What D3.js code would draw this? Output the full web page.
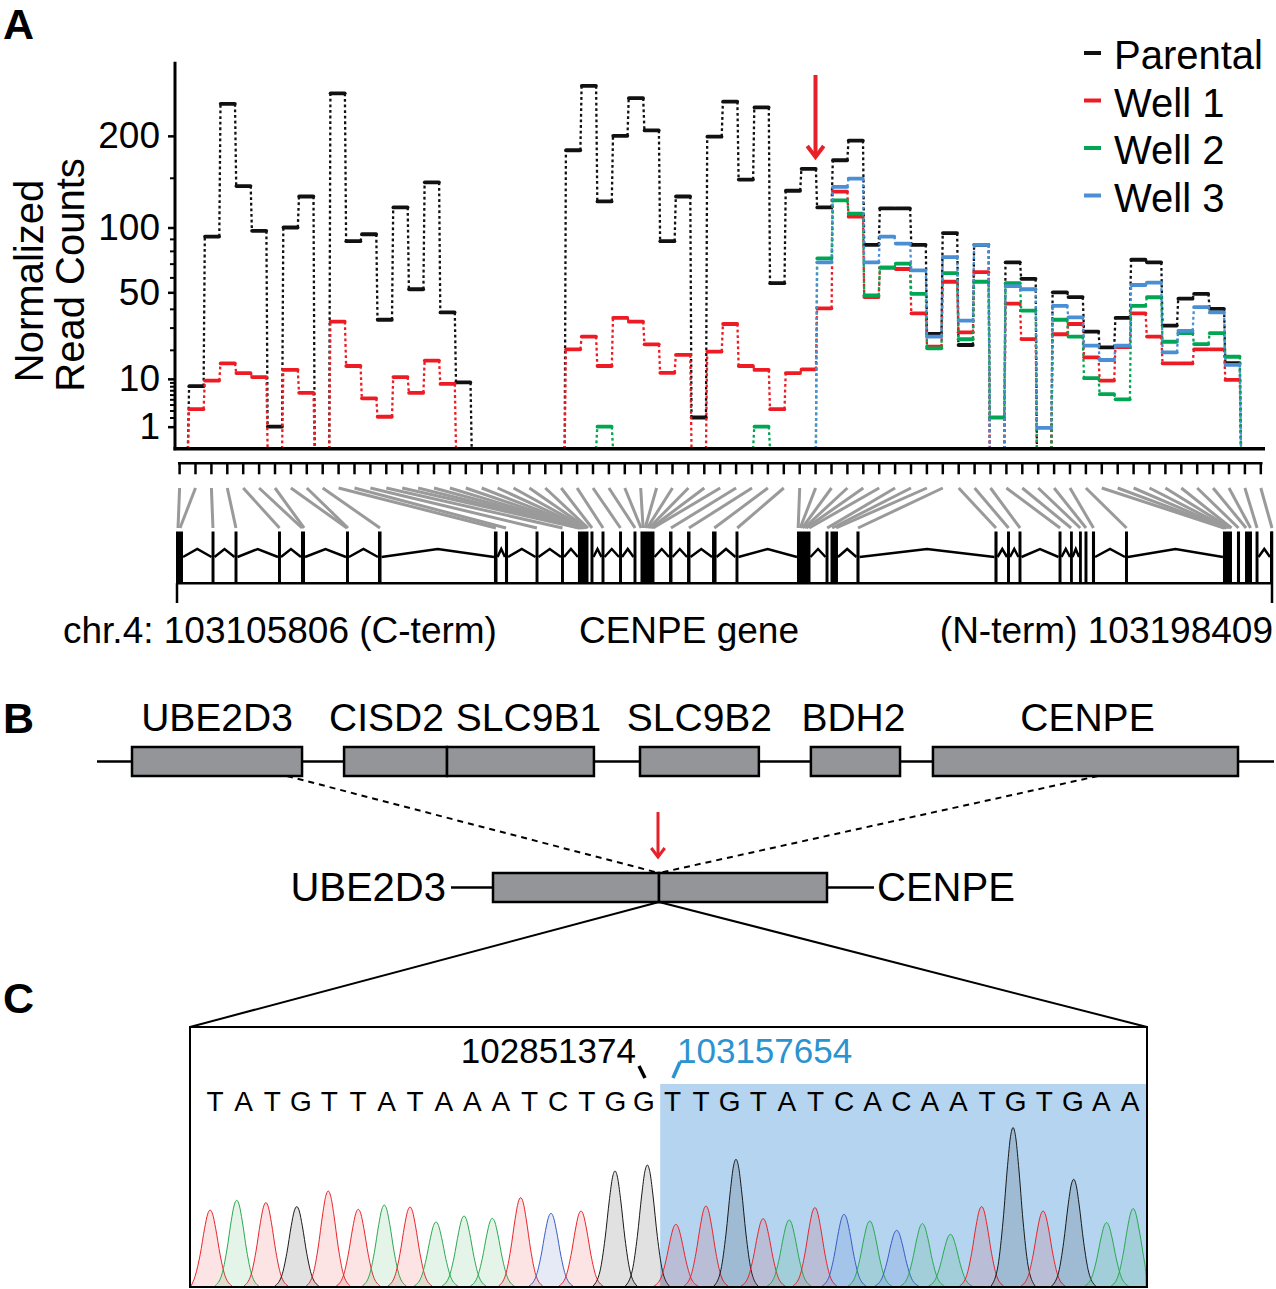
<!DOCTYPE html>
<html><head><meta charset="utf-8">
<script src="https://cdn.jsdelivr.net/npm/d3@7"></script>
<style>body{margin:0;background:#fff}svg{display:block}text{font-family:"Liberation Sans",Arial,Helvetica,sans-serif}</style>
</head><body><svg id="fig" width="1276" height="1289"></svg>
<script>
// ---------------- DATA ----------------
// Panel A: normalized read counts per bin (67 bins along CENPE, C-term -> N-term)
const parental = [8,92,243,141,97,1,100,130,0,258,88,94,34,119,52,145,38,9,0,0,0,0,0,0,182,269,125,200,251,207,88,130,2,199,246,148,238,56,136,160,119,170,194,85,118,118,85,27,95,22,85,0,71,59,0,50,47,28,21,35,73,71,31,46,49,40,15];
const well1 = [3.2,9.5,14.9,11.7,10.5,0,12.7,6.4,0,33,14,5.2,2.1,10.5,6.4,15.9,8.6,0,0,0,0,0,0,0,20.2,25.7,14,35,33,22.3,11.8,18,0,19.3,31.8,14,12.7,3.2,11.7,12.9,40.3,135,110,47,67,66,37.5,21.3,57,27.7,63.7,0,43,24.6,0,26.8,31.8,17.1,9.5,21.1,37.5,25.7,14.9,14.9,20.2,20.2,9.7];
const well2 = [0,0,0,0,0,0,0,0,0,0,0,0,0,0,0,0,0,0,0,0,0,0,0,0,0,0,1,0,0,0,0,0,0,0,0,0,1,0,0,0,74,126,113,48,67,70,49,20.6,63,24.5,57,2,56,39,0,34,25.7,10.2,6.1,5,41.7,46.9,23.4,27.3,22.4,27.3,17.3];
const well3 = [0,0,0,0,0,0,0,0,0,0,0,0,0,0,0,0,0,0,0,0,0,0,0,0,0,0,0,0,0,0,0,0,0,0,0,0,0,0,0,0,71,140,149,71,92,86,65,25.7,75,33.5,85,0,54,52,0.9,41.7,35.3,21.7,16.1,21.7,54.8,56.4,19,28.4,41,38,14.4];
const seriesNames = ["Parental","Well 1","Well 2","Well 3"];
const yMajorTicks = [1,10,50,100,200];
const yMinorTicks = [2,3,4,5,6,7,8,9,20,30,40,60,70,80,90,150];
const breakBin = 40; // arrow at boundary between bin 40 and 41

// CENPE gene model (kb from 103105806)
const geneStart = 103105806, geneEnd = 103198409;
const exonStartKb = [0,3.00,4.94,8.61,10.55,14.35,17.05,26.84,27.77,30.35,32.50,33.93,34.99,35.92,37.40,38.62,39.21,41.62,43.14,45.25,47.23,52.42,54.83,55.25,57.44,69.09,70.15,71.12,74.50,75.47,76.23,76.69,77.32,80.11,88.38,89.56,90.24,91.13,92.35];
const exonEndKb   = [0.59,3.25,5.19,8.86,10.89,14.60,17.35,27.14,28.03,30.60,32.75,34.82,35.24,36.17,37.65,38.87,40.39,41.91,43.43,45.63,47.48,53.56,55.08,55.88,57.70,69.35,70.40,71.37,74.75,75.68,76.44,76.94,77.58,80.36,89.14,89.82,90.83,91.38,92.60];
// each ruler tick -> position (kb) in the gene model
const rulerTargetKb = [0.17,0.34,3.12,5.06,8.74,10.64,10.81,14.43,14.52,17.22,27.01,27.86,30.47,32.63,34.02,34.10,34.19,34.27,34.36,34.44,34.53,34.61,34.69,34.78,35.12,36.05,37.52,38.75,39.26,39.43,39.60,39.77,39.93,40.10,40.27,41.78,43.30,45.44,47.38,52.52,52.69,52.86,53.03,53.20,53.45,54.97,55.39,55.73,57.57,69.22,70.28,71.25,74.63,75.56,76.33,76.82,77.45,80.24,88.47,88.55,88.68,88.80,88.97,89.10,89.69,90.33,90.71,91.26,92.52];

// Panel B genes (locus units)
const locusGenes = ["UBE2D3","CISD2","SLC9B1","SLC9B2","BDH2","CENPE"];
const locusStart = [0,9.99,14.84,23.93,31.98,37.73];
const locusEnd   = [8.01,14.84,21.76,29.53,36.18,52.1];

// Panel C: Sanger trace
const seqBases = "TATGTTATAAATCTGGTTGTATCACAATGTGAA".split("");
const junctionIndex = 16; // first CENPE base
const peakPos = [-0.17,0.76,1.78,2.86,3.96,5.01,5.92,6.82,7.73,8.71,9.70,10.69,11.75,12.80,13.99,15.12,16.12,17.17,18.22,19.17,20.08,20.98,22.0,22.9,23.84,24.74,25.72,26.81,27.91,28.96,30.03,31.18,32.11];
const peakHeight = [760,857,834,794,950,767,810,790,640,700,677,884,727,750,1150,1210,617,800,1267,674,660,784,717,650,557,624,517,794,1584,750,1067,634,774];
const leftCoord = "102851374", rightCoord = "103157654";

// ---------------- DRAW ----------------
const svg = d3.select("#fig");
svg.append("rect").attr("width",1276).attr("height",1289).attr("fill","#fff");
const FONT = '"Liberation Sans",Arial,Helvetica,sans-serif';
const colors = ["#111111","#ed1c24","#00a651","#4a8fd4"];

// panel letters
[["A",3,39],["B",3,733],["C",3,1013]].forEach(([t,x0,y0])=>{
  svg.append("text").attr("x",x0).attr("y",y0).attr("font-size",43).attr("font-weight","bold").text(t);
});

// ---- Panel A chart ----
const x = d3.scaleLinear().domain([0, parental.length]).range([188.5, 1240.4]);
const y = d3.scaleSqrt().domain([0, 306]).range([448.8, 61.7]);

function drawSeries(vals, color){
  const g = svg.append("g");
  for(let i=0;i<=vals.length;i++){
    const a = i===0?0:vals[i-1], b = i===vals.length?0:vals[i];
    if(a===0 && b===0) continue;
    g.append("line").attr("x1",x(i)-0.6).attr("y1",y(a)).attr("x2",x(i)+0.6).attr("y2",y(b))
      .attr("stroke",color).attr("stroke-width",2.3).attr("stroke-dasharray","2.8,2.8");
  }
  vals.forEach((v,i)=>{
    if(v===0) return;
    g.append("line").attr("x1",x(i)+0.8).attr("x2",x(i+1)-0.8).attr("y1",y(v)).attr("y2",y(v))
      .attr("stroke",color).attr("stroke-width",3.8).attr("stroke-linecap","round");
  });
}
[parental,well1,well2,well3].forEach((s,i)=>drawSeries(s,colors[i]));

// axes
const yAxis = d3.axisLeft(y).tickValues(yMajorTicks).tickSize(7).tickPadding(8).tickFormat(d3.format("d"));
const gy = svg.append("g").attr("transform","translate(175,0)").call(yAxis);
gy.select(".domain").remove();
gy.selectAll(".tick line").attr("stroke","#000").attr("stroke-width",2.5);
gy.selectAll(".tick text").attr("font-size",37).attr("font-family",FONT).attr("fill","#000");
const gyMinor = svg.append("g").attr("transform","translate(175,0)").call(d3.axisLeft(y).tickValues(yMinorTicks).tickSize(5).tickFormat(""));
gyMinor.select(".domain").remove();
gyMinor.selectAll(".tick line").attr("stroke","#000").attr("stroke-width",2);
svg.append("line").attr("x1",175).attr("x2",175).attr("y1",y.range()[1]).attr("y2",y(0)+1.5).attr("stroke","#000").attr("stroke-width",3);
svg.append("line").attr("x1",173.5).attr("x2",1265).attr("y1",y(0)).attr("y2",y(0)).attr("stroke","#000").attr("stroke-width",3.5);

// y title
svg.append("text").attr("transform","translate(43,281) rotate(-90)").attr("text-anchor","middle").attr("font-size",40).text("Normalized");
svg.append("text").attr("transform","translate(84,275) rotate(-90)").attr("text-anchor","middle").attr("font-size",40).text("Read Counts");

// legend
seriesNames.forEach((n,i)=>{
  const cy = 55 + i*47.5;
  svg.append("line").attr("x1",1084).attr("x2",1101).attr("y1",cy-2).attr("y2",cy-2).attr("stroke",colors[i]).attr("stroke-width",4);
  svg.append("text").attr("x",1114).attr("y",cy+14).attr("font-size",40).text(n);
});

// red arrow
function arrow(xp, y1, y2, w, head){
  const g = svg.append("g").attr("stroke","#e8202a").attr("stroke-width",w).attr("fill","none").attr("stroke-linecap","butt");
  g.append("line").attr("x1",xp).attr("x2",xp).attr("y1",y1).attr("y2",y2-1);
  g.append("path").attr("d",`M${xp-head*0.75},${y2-head} L${xp},${y2} L${xp+head*0.75},${y2-head}`).attr("stroke-linejoin","miter");
}
arrow(x(breakBin)-1, 75, 157, 4, 11);

// ---- ruler & gene model ----
const rulerY = 463.3;
const rx = d3.scalePoint().domain(d3.range(rulerTargetKb.length)).range([179.6, 1260.8]);
svg.append("line").attr("x1",178).attr("x2",1262.5).attr("y1",rulerY).attr("y2",rulerY).attr("stroke","#000").attr("stroke-width",2.5);
svg.append("g").selectAll("line").data(rulerTargetKb).join("line")
  .attr("x1",(d,i)=>rx(i)).attr("x2",(d,i)=>rx(i)).attr("y1",rulerY).attr("y2",rulerY+11)
  .attr("stroke","#000").attr("stroke-width",2.5);
const gx = d3.scaleLinear().domain([0,(geneEnd-geneStart)/1000]).range([176,1273]);
svg.append("g").selectAll("line").data(rulerTargetKb).join("line")
  .attr("x1",(d,i)=>rx(i)).attr("y1",488).attr("x2",d=>gx(d)).attr("y2",528)
  .attr("stroke","#9a9a9a").attr("stroke-width",3);

const exonTop = 531.5, exonBot = 583.3, intronBase = 557, intronPeak = 549;
svg.append("line").attr("x1",gx(0)).attr("x2",gx.range()[1]).attr("y1",exonBot).attr("y2",exonBot).attr("stroke","#000").attr("stroke-width",2.5);
const introns = d3.range(exonStartKb.length-1).map(i=>[exonEndKb[i], exonStartKb[i+1]]).filter(([a,b])=>gx(b)-gx(a)>5);
svg.append("g").selectAll("path").data(introns).join("path")
  .attr("d",([a,b])=>`M${gx(a)},${intronBase} L${(gx(a)+gx(b))/2},${intronPeak} L${gx(b)},${intronBase}`)
  .attr("fill","none").attr("stroke","#000").attr("stroke-width",2.5);
svg.append("g").selectAll("rect").data(exonStartKb).join("rect")
  .attr("x",(d)=>gx(d)).attr("width",(d,i)=>Math.max(2.8,gx(exonEndKb[i])-gx(d))).attr("y",exonTop).attr("height",exonBot-exonTop)
  .attr("fill","#000");
svg.append("line").attr("x1",gx(0)+1).attr("x2",gx(0)+1).attr("y1",exonBot).attr("y2",603).attr("stroke","#000").attr("stroke-width",2.5);
svg.append("line").attr("x1",gx.range()[1]-1).attr("x2",gx.range()[1]-1).attr("y1",exonTop).attr("y2",603).attr("stroke","#000").attr("stroke-width",2.5);

svg.append("text").attr("x",63).attr("y",643).attr("font-size",37).text(`chr.4: ${geneStart} (C-term)`);
svg.append("text").attr("x",689).attr("y",643).attr("text-anchor","middle").attr("font-size",37).text("CENPE gene");
svg.append("text").attr("x",1273).attr("y",643).attr("text-anchor","end").attr("font-size",37).text(`(N-term) ${geneEnd}`);

// ---- Panel B ----
const lx = d3.scaleLinear().domain([0,52.1]).range([132,1238]);
const trackY = 761.5;
const labelNudge = [0,-9,8,0,-2,2];
svg.append("line").attr("x1",97).attr("x2",1274).attr("y1",trackY).attr("y2",trackY).attr("stroke","#000").attr("stroke-width",2.5);
locusGenes.forEach((g,i)=>{
  svg.append("rect").attr("x",lx(locusStart[i])).attr("y",747).attr("width",lx(locusEnd[i])-lx(locusStart[i])).attr("height",29)
    .attr("fill","#939598").attr("stroke","#000").attr("stroke-width",2.5);
  svg.append("text").attr("x",(lx(locusStart[i])+lx(locusEnd[i]))/2+labelNudge[i]).attr("y",731).attr("text-anchor","middle").attr("font-size",39).text(g);
});
const fusionX = 659, fusionTop = 873, fusionBot = 902;
svg.append("line").attr("x1",287).attr("y1",776).attr("x2",fusionX).attr("y2",fusionTop).attr("stroke","#000").attr("stroke-width",2).attr("stroke-dasharray","6,5");
svg.append("line").attr("x1",1098).attr("y1",776).attr("x2",fusionX).attr("y2",fusionTop).attr("stroke","#000").attr("stroke-width",2).attr("stroke-dasharray","6,5");
arrow(fusionX-1, 812, 857, 3, 9);
svg.append("rect").attr("x",493).attr("y",fusionTop).attr("width",fusionX-493).attr("height",fusionBot-fusionTop).attr("fill","#939598").attr("stroke","#000").attr("stroke-width",2.5);
svg.append("rect").attr("x",fusionX).attr("y",fusionTop).attr("width",827-fusionX).attr("height",fusionBot-fusionTop).attr("fill","#939598").attr("stroke","#000").attr("stroke-width",2.5);
svg.append("line").attr("x1",451).attr("x2",493).attr("y1",887.5).attr("y2",887.5).attr("stroke","#000").attr("stroke-width",2.5);
svg.append("line").attr("x1",827).attr("x2",874).attr("y1",887.5).attr("y2",887.5).attr("stroke","#000").attr("stroke-width",2.5);
svg.append("text").attr("x",446).attr("y",901).attr("text-anchor","end").attr("font-size",40).text(locusGenes[0]);
svg.append("text").attr("x",877).attr("y",901).attr("font-size",40).text(locusGenes[5]);

// ---- Panel C ----
const boxL = 190, boxR = 1147, boxT = 1027, boxB = 1287;
svg.append("line").attr("x1",fusionX).attr("y1",fusionBot).attr("x2",boxL).attr("y2",boxT).attr("stroke","#000").attr("stroke-width",2);
svg.append("line").attr("x1",fusionX).attr("y1",fusionBot).attr("x2",boxR).attr("y2",boxT).attr("stroke","#000").attr("stroke-width",2);
const bx = d3.scaleLinear().domain([0, seqBases.length-1]).range([215, 1130]);
const hiX = (bx(junctionIndex-1)+bx(junctionIndex))/2 + 2;
svg.append("rect").attr("x",hiX).attr("y",1084).attr("width",boxR-hiX).attr("height",boxB-1084).attr("fill","#b4d4ef");

const sy = d3.scaleLinear().domain([0,1600]).range([boxB-1,boxB-161]);
const baseColor = {A:"#2ca94f",C:"#3a5cc5",G:"#1a1a1a",T:"#e8262b"};
const bell = [[-22,0],[-15,0.13],[-10,0.41],[-5.5,0.76],[-2.5,0.945],[0,1],[2.5,0.945],[5.5,0.76],[10,0.41],[15,0.13],[22,0]];
const area = d3.area().x(d=>d[0]).y0(sy(0)).y1(d=>d[1]).curve(d3.curveMonotoneX);
const lineG = d3.line().x(d=>d[0]).y(d=>d[1]).curve(d3.curveMonotoneX);
const tr = svg.append("g");
peakPos.forEach((p,i)=>{
  const cx = bx(p), h = peakHeight[i], col = baseColor[seqBases[i]];
  const pts = bell.map(([dx,f])=>[Math.max(boxL+1,Math.min(boxR-1,cx+dx)), sy(h*f)]);
  tr.append("path").attr("d",area(pts)).attr("fill",col).attr("fill-opacity",0.13);
  tr.append("path").attr("d",lineG(pts)).attr("fill","none").attr("stroke",col).attr("stroke-width",1);
});
svg.append("rect").attr("x",boxL).attr("y",boxT).attr("width",boxR-boxL).attr("height",boxB-boxT).attr("fill","none").attr("stroke","#000").attr("stroke-width",2);

svg.append("g").selectAll("text").data(seqBases).join("text")
  .attr("x",(d,i)=>bx(i)).attr("y",1111).attr("text-anchor","middle").attr("font-size",28).text(d=>d);
svg.append("text").attr("x",636).attr("y",1063).attr("text-anchor","end").attr("font-size",35).text(leftCoord);
svg.append("line").attr("x1",639).attr("y1",1066).attr("x2",645).attr("y2",1078).attr("stroke","#000").attr("stroke-width",3.5);
svg.append("text").attr("x",677).attr("y",1063).attr("font-size",35).attr("fill","#2a93d0").text(rightCoord);
svg.append("line").attr("x1",680).attr("y1",1062).attr("x2",673).attr("y2",1078).attr("stroke","#2a93d0").attr("stroke-width",3.5);
</script></body></html>
